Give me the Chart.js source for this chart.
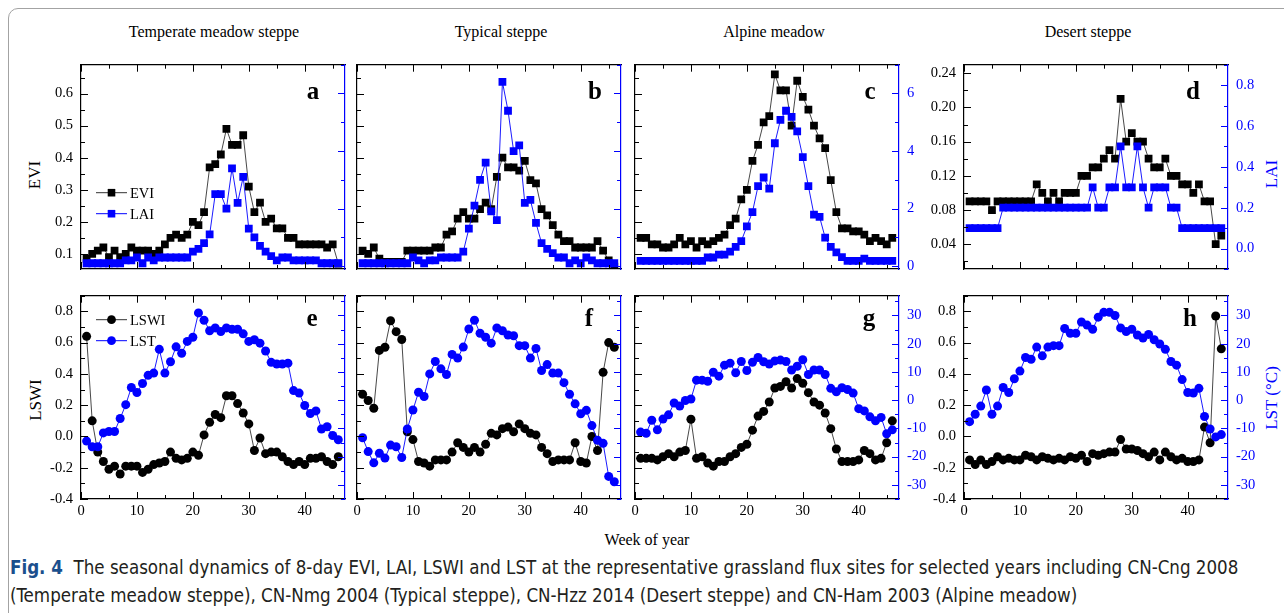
<!DOCTYPE html>
<html>
<head>
<meta charset="utf-8">
<script src="https://cdn.jsdelivr.net/npm/chart.js@4.4.1/dist/chart.umd.min.js"></script>
<style>
  html, body { margin: 0; padding: 0; background: #fff; }
  body { width: 1284px; height: 613px; position: relative; overflow: hidden;
         font-family: 'Liberation Serif', 'Times New Roman', serif; }
  #frame { position: absolute; left: 8px; top: 8px; width: 1320px; height: 660px;
           border: 1px solid #a3a3a3; border-radius: 10px; }
  canvas { position: absolute; }
  .t { position: absolute; white-space: nowrap; color: #000; line-height: 18px; }
  .title { font-size: 16px; top: 23px; transform: translateX(-50%); }
  .ylab { font-size: 17px; transform: translate(-50%, -50%) rotate(-90deg); }
  .blue { color: #0000ff; }
  .cap { font-family: 'Liberation Sans Narrow', 'DejaVu Sans Condensed', 'Roboto Condensed', sans-serif;
         font-size: 19.5px; color: #231f20; left: 10px; line-height: 22px; transform-origin: 0 0; }
  .cap b { color: #1b4f8d; }
</style>
</head>
<body>
<div id="frame"></div>

<div class="t title" style="left:214px">Temperate meadow steppe</div>
<div class="t title" style="left:501px">Typical steppe</div>
<div class="t title" style="left:774px">Alpine meadow</div>
<div class="t title" style="left:1088px">Desert steppe</div>

<div class="t ylab" style="left:35px;top:175px">EVI</div>
<div class="t ylab" style="left:36px;top:400px">LSWI</div>
<div class="t ylab blue" style="left:1272px;top:174px">LAI</div>
<div class="t ylab blue" style="left:1272px;top:398px">LST (°C)</div>

<div class="t" style="left:647px;top:531px;font-size:16px;transform:translateX(-50%)">Week of year</div>

<div class="t cap" id="cap1" style="top:557px"><b>Fig. 4</b>&nbsp; The seasonal dynamics of 8-day EVI, LAI, LSWI and LST at the representative grassland flux sites for selected years including CN-Cng 2008</div>
<div class="t cap" id="cap2" style="top:585px">(Temperate meadow steppe), CN-Nmg 2004 (Typical steppe), CN-Hzz 2014 (Desert steppe) and CN-Ham 2003 (Alpine meadow)</div>

<script>
// week of year (8-day composites)
const weeks = [1,2,3,4,5,6,7,8,9,10,11,12,13,14,15,16,17,18,19,20,21,22,23,24,25,26,27,28,29,30,31,32,33,34,35,36,37,38,39,40,41,42,43,44,45,46];

// tick labels
const xTickLabels = [0, 10, 20, 30, 40];
const eviTickLabels = [0.1, 0.2, 0.3, 0.4, 0.5, 0.6];
const laiTickLabels = [0, 2, 4, 6];
const eviDesertTickLabels = [0.04, 0.08, 0.12, 0.16, 0.20, 0.24];
const laiDesertTickLabels = [0.0, 0.2, 0.4, 0.6, 0.8];
const lswiTickLabels = [-0.4, -0.2, 0.0, 0.2, 0.4, 0.6, 0.8];
const lstTickLabels = [-30, -20, -10, 0, 10, 20, 30];

// a - Temperate meadow steppe (CN-Cng 2008)
const eviTemperate = [0.085,0.10,0.11,0.12,0.09,0.11,0.09,0.10,0.12,0.11,0.11,0.11,0.10,0.11,0.13,0.15,0.16,0.15,0.16,0.20,0.19,0.23,0.37,0.38,0.41,0.49,0.44,0.44,0.47,0.31,0.23,0.26,0.20,0.21,0.18,0.18,0.15,0.15,0.13,0.13,0.13,0.13,0.13,0.12,0.13,0.07];
const laiTemperate = [0.1,0.1,0.1,0.1,0.1,0.1,0.1,0.2,0.2,0.3,0.1,0.3,0.2,0.3,0.3,0.3,0.3,0.3,0.3,0.5,0.6,0.8,1.1,2.5,2.5,2.0,3.4,2.2,3.1,1.3,1.0,0.7,0.5,0.35,0.2,0.3,0.3,0.2,0.2,0.2,0.2,0.2,0.1,0.1,0.1,0.1];
// b - Typical steppe (CN-Nmg 2004)
const eviTypical = [0.11,0.10,0.12,0.085,0.075,0.075,0.075,0.075,0.11,0.11,0.11,0.11,0.11,0.12,0.12,0.16,0.17,0.21,0.23,0.21,0.21,0.24,0.26,0.24,0.34,0.40,0.37,0.37,0.36,0.39,0.33,0.32,0.24,0.22,0.19,0.16,0.14,0.14,0.12,0.12,0.12,0.12,0.14,0.11,0.08,0.06];
const laiTypical = [0.1,0.1,0.1,0.1,0.1,0.1,0.1,0.1,0.1,0.3,0.2,0.1,0.2,0.2,0.3,0.3,0.3,0.3,0.5,1.3,2.1,3.0,3.6,1.9,1.6,6.4,5.4,4.0,4.2,2.2,2.3,1.5,0.8,0.6,0.45,0.3,0.3,0.1,0.2,0.1,0.3,0.2,0.1,0.1,0.1,0.1];
// c - Alpine meadow (CN-Ham 2003)
const eviAlpine = [0.15,0.15,0.13,0.13,0.12,0.12,0.13,0.15,0.13,0.14,0.12,0.14,0.13,0.14,0.15,0.16,0.19,0.21,0.27,0.30,0.39,0.44,0.51,0.53,0.66,0.61,0.61,0.50,0.64,0.59,0.55,0.50,0.46,0.43,0.33,0.23,0.18,0.18,0.17,0.17,0.16,0.14,0.15,0.14,0.13,0.15];
const laiAlpine = [0.18,0.18,0.18,0.18,0.18,0.18,0.18,0.18,0.18,0.18,0.18,0.18,0.3,0.3,0.4,0.4,0.5,0.67,0.87,1.38,1.88,2.78,3.08,2.69,4.27,5.08,5.4,5.19,4.68,3.79,2.78,1.79,1.71,0.99,0.67,0.48,0.31,0.18,0.18,0.18,0.26,0.18,0.18,0.18,0.18,0.18];
// d - Desert steppe (CN-Hzz 2014)
const eviDesert = [0.09,0.09,0.09,0.09,0.08,0.09,0.09,0.09,0.09,0.09,0.09,0.09,0.11,0.10,0.09,0.10,0.09,0.10,0.10,0.10,0.12,0.12,0.13,0.13,0.14,0.15,0.14,0.21,0.16,0.17,0.16,0.16,0.14,0.13,0.13,0.14,0.12,0.12,0.11,0.11,0.10,0.11,0.09,0.09,0.04,0.05];
const laiDesert = [0.1,0.1,0.1,0.1,0.1,0.1,0.2,0.2,0.2,0.2,0.2,0.2,0.2,0.2,0.2,0.2,0.2,0.2,0.2,0.2,0.2,0.2,0.3,0.2,0.2,0.3,0.3,0.5,0.3,0.3,0.5,0.3,0.2,0.3,0.3,0.3,0.2,0.2,0.1,0.1,0.1,0.1,0.1,0.1,0.1,0.1];

// e-h LSWI and LST
const lswiTemperate = [0.64,0.10,-0.10,-0.16,-0.21,-0.19,-0.24,-0.19,-0.19,-0.19,-0.23,-0.21,-0.18,-0.17,-0.16,-0.10,-0.14,-0.15,-0.14,-0.10,-0.12,0.01,0.09,0.14,0.12,0.26,0.26,0.21,0.15,0.08,-0.09,-0.01,-0.11,-0.10,-0.10,-0.13,-0.16,-0.18,-0.16,-0.18,-0.14,-0.14,-0.13,-0.16,-0.18,-0.13];
const lstTemperate = [-14.5,-16.5,-16.5,-11.6,-11.1,-11.1,-6.5,-1.6,4.5,2.7,5.9,8.8,9.6,18.0,9.6,13.6,18.9,16.6,20.8,22.3,30.9,28.3,24.6,25.6,24.3,25.6,25.1,25.1,23.5,20.8,21.4,20.2,17.4,13.4,12.8,12.8,13.1,3.4,2.5,-1.9,-4.7,-3.8,-10.2,-9.4,-12.5,-14.0];
const lswiTypical = [0.27,0.23,0.18,0.55,0.57,0.74,0.67,0.62,0.03,-0.02,-0.16,-0.17,-0.19,-0.15,-0.15,-0.15,-0.10,-0.04,-0.07,-0.10,-0.07,-0.10,-0.05,0.02,0.01,0.05,0.06,0.03,0.08,0.05,0.02,0.01,-0.07,-0.11,-0.16,-0.15,-0.15,-0.15,-0.04,-0.16,-0.17,0.00,-0.09,0.41,0.60,0.57];
const lstTypical = [-13.3,-18.2,-22.2,-18.8,-20.5,-15.9,-16.5,-20.3,-10.2,-3.5,2.8,1.3,9.3,13.7,11.1,9.1,16.2,14.9,18.8,25.2,28.3,23.7,22.3,20.2,25.6,24.6,23.1,22.8,19.3,19.3,14.9,18.3,10.5,12.6,9.6,9.6,6.2,2.1,-1.3,-4.8,-3.6,-9.0,-14.2,-15.3,-27.0,-28.9];
const lswiAlpine = [-0.14,-0.14,-0.14,-0.15,-0.13,-0.11,-0.13,-0.10,-0.09,0.11,-0.14,-0.13,-0.17,-0.19,-0.16,-0.16,-0.13,-0.11,-0.07,-0.05,0.04,0.13,0.16,0.22,0.31,0.32,0.35,0.31,0.37,0.34,0.28,0.22,0.20,0.15,0.05,-0.08,-0.16,-0.16,-0.16,-0.15,-0.09,-0.11,-0.15,-0.14,-0.04,0.10];
const lstAlpine = [-11.3,-11.7,-7.1,-10.5,-6.7,-5.2,-1.0,-2.1,-0.1,0.4,7.1,7.1,6.7,9.9,8.5,12.4,13.1,9.7,13.7,10.5,13.4,15.1,13.6,12.8,13.9,14.2,13.7,10.7,12.0,14.3,9.1,10.7,10.7,9.1,4.2,3.0,4.4,3.8,2.5,-3.0,-3.8,-5.9,-7.3,-6.1,-11.9,-10.5];
const lswiDesert = [-0.15,-0.18,-0.15,-0.18,-0.16,-0.13,-0.15,-0.14,-0.15,-0.15,-0.12,-0.13,-0.15,-0.13,-0.14,-0.15,-0.14,-0.15,-0.13,-0.14,-0.12,-0.16,-0.11,-0.12,-0.11,-0.10,-0.10,-0.02,-0.08,-0.08,-0.09,-0.11,-0.13,-0.10,-0.15,-0.10,-0.13,-0.15,-0.14,-0.16,-0.16,-0.15,0.06,-0.04,0.77,0.56];
const lstDesert = [-7.6,-5.0,-2.1,3.6,-5.0,-2.1,4.5,2.7,7.6,10.3,15.1,14.5,18.8,15.7,18.8,19.3,19.3,25.4,23.7,23.7,27.7,26.6,25.1,29.4,31.1,31.1,30.0,25.6,24.3,25.1,23.1,22.0,23.3,21.4,19.9,18.0,13.7,12.4,7.3,2.7,2.5,4.2,-5.8,-10.2,-13.0,-12.2];

const BLUE = '#0000ff';
const SERIF = "'Liberation Serif', 'Times New Roman', serif";
Chart.defaults.font.family = SERIF;
Chart.defaults.font.size = 14.5;
Chart.defaults.color = '#000';

// panel frames in page pixels
const COLS = [81, 357, 635, 964];
const ROWS = [{ top: 58, h: 211 }, { top: 289, h: 210 }];
const W = 264, ML = 45, MR = 45, MT = 10, MB = 30;

function fmt(v, d) {
  const r = Math.round(v * 1e6) / 1e6;
  return (Math.abs(r) < 1e-9 ? 0 : r).toFixed(d);
}

function axis(pos, min, max, step, labels, digits, color, show) {
  const vertical = pos === 'left' || pos === 'right';
  return {
    type: 'linear', position: pos, min, max,
    border: { display: true, color, width: 1.2 },
    grid: { display: false, drawTicks: false },
    ticks: {
      stepSize: step, includeBounds: false, autoSkip: false, maxRotation: 0, minRotation: 0,
      color, padding: vertical ? 8 : 3,
      font: { family: 'Liberation Serif', size: 14.5 },
      callback: (v) => (show && labels.some((l) => Math.abs(l - v) < step / 100)) ? fmt(v, digits) : ''
    },
    afterFit: (s) => {
      if (vertical) s.width = pos === 'left' ? ML : MR;
      else s.height = pos === 'top' ? MT : MB;
    }
  };
}

// inward frame ticks, legend and panel letter
function decor(p) {
  return {
    id: 'decor' + p.letter,
    afterDraw(chart) {
      const { ctx, chartArea: a } = chart;
      ctx.save();
      for (const s of Object.values(chart.scales)) {
        const major = p.majors[s.id];
        ctx.strokeStyle = s.options.border.color;
        ctx.lineWidth = 1;
        for (const t of s.ticks) {
          const q = t.value / major;
          const len = Math.abs(q - Math.round(q)) < 1e-4 ? 7 : 4;
          const px = Math.round(s.getPixelForValue(t.value)) + 0.5;
          ctx.beginPath();
          if (s.position === 'left') { ctx.moveTo(a.left, px); ctx.lineTo(a.left + len, px); }
          else if (s.position === 'right') { ctx.moveTo(a.right, px); ctx.lineTo(a.right - len, px); }
          else if (s.position === 'bottom') { ctx.moveTo(px, a.bottom); ctx.lineTo(px, a.bottom - len); }
          else { ctx.moveTo(px, a.top); ctx.lineTo(px, a.top + len); }
          ctx.stroke();
        }
      }
      if (p.legend) {
        chart.data.datasets.forEach((d, i) => {
          const y = a.top + p.legendTop + i * 21;
          ctx.strokeStyle = d.borderColor;
          ctx.lineWidth = 1;
          ctx.beginPath(); ctx.moveTo(a.left + 15, y); ctx.lineTo(a.left + 46, y); ctx.stroke();
          ctx.fillStyle = d.pointBackgroundColor;
          ctx.beginPath();
          if (d.pointStyle === 'rect') ctx.rect(a.left + 30.5 - 3.8, y - 3.8, 7.6, 7.6);
          else ctx.arc(a.left + 30.5, y, 4.4, 0, Math.PI * 2);
          ctx.fill();
          ctx.fillStyle = '#000';
          ctx.font = '14.5px ' + SERIF;
          ctx.textAlign = 'left'; ctx.textBaseline = 'middle';
          ctx.fillText(d.label, a.left + 49, y + 1);
        });
      }
      ctx.fillStyle = '#000';
      ctx.font = 'bold 25px ' + SERIF;
      ctx.textAlign = 'center'; ctx.textBaseline = 'alphabetic';
      ctx.fillText(p.letter, p.letterX - (COLS[p.col] - ML), a.top + p.letterDy);
      ctx.restore();
    }
  };
}

function series(label, vals, axisId, color, line, style, radius, order) {
  return {
    label, yAxisID: axisId, order,
    data: weeks.map((w, i) => ({ x: w, y: vals[i] })),
    borderColor: line, borderWidth: 0.9, tension: 0,
    pointStyle: style, pointRadius: radius, pointHoverRadius: radius,
    pointBackgroundColor: color, pointBorderColor: color, pointBorderWidth: 0
  };
}

function panel(p) {
  const row = ROWS[p.row];
  const cv = document.createElement('canvas');
  cv.width = ML + W + MR;
  cv.height = MT + row.h + MB;
  cv.style.left = (COLS[p.col] - ML) + 'px';
  cv.style.top = (row.top - MT) + 'px';
  document.body.appendChild(cv);

  let y, y1, datasets;
  if (p.row === 0) {
    const desert = p.col === 3;
    y = desert ? axis('left', 0.011, 0.25, 0.02, eviDesertTickLabels, 2, '#000', true)
               : axis('left', 0.053, 0.69, 0.05, eviTickLabels, 1, '#000', p.col === 0);
    y1 = desert ? axis('right', -0.1, 0.9, 0.1, laiDesertTickLabels, 1, BLUE, true)
                : axis('right', -0.1, 7.0, 1, laiTickLabels, 0, BLUE, p.col === 2);
    p.majors = { x: 10, x2: 10, y: desert ? 0.04 : 0.1, y1: desert ? 0.2 : 2 };
    datasets = [
      series('EVI', p.a, 'y', '#000', '#333', 'rect', 5.5, 1),
      series('LAI', p.b, 'y1', BLUE, BLUE, 'rect', 5.5, 0)
    ];
  } else {
    y = axis('left', -0.4, 0.9, 0.1, lswiTickLabels, 1, '#000', p.col === 0 || p.col === 3);
    y1 = axis('right', -35, 37, 5, lstTickLabels, 0, BLUE, p.col >= 2);
    p.majors = { x: 10, x2: 10, y: 0.2, y1: 10 };
    datasets = [
      series('LSWI', p.a, 'y', '#000', '#333', 'circle', 4.5, 1),
      series('LST', p.b, 'y1', BLUE, BLUE, 'circle', 4.5, 0)
    ];
  }

  new Chart(cv.getContext('2d'), {
    type: 'line',
    data: { datasets },
    options: {
      responsive: false,
      animation: false,
      events: [],
      layout: { padding: 0 },
      plugins: { legend: { display: false }, tooltip: { enabled: false } },
      scales: {
        x: axis('bottom', 0, 47.2, 5, xTickLabels, 0, '#000', p.row === 1),
        x2: axis('top', 0, 47.2, 5, [], 0, '#000', false),
        y, y1
      }
    },
    plugins: [decor(p)]
  });
}

const panels = [
  { row: 0, col: 0, letter: 'a', letterX: 313, letterDy: 34, a: eviTemperate, b: laiTemperate, legend: true, legendTop: 128 },
  { row: 0, col: 1, letter: 'b', letterX: 595, letterDy: 34, a: eviTypical, b: laiTypical },
  { row: 0, col: 2, letter: 'c', letterX: 870, letterDy: 34, a: eviAlpine, b: laiAlpine },
  { row: 0, col: 3, letter: 'd', letterX: 1193, letterDy: 34, a: eviDesert, b: laiDesert },
  { row: 1, col: 0, letter: 'e', letterX: 312, letterDy: 30, a: lswiTemperate, b: lstTemperate, legend: true, legendTop: 24 },
  { row: 1, col: 1, letter: 'f', letterX: 589, letterDy: 30, a: lswiTypical, b: lstTypical },
  { row: 1, col: 2, letter: 'g', letterX: 869, letterDy: 30, a: lswiAlpine, b: lstAlpine },
  { row: 1, col: 3, letter: 'h', letterX: 1190, letterDy: 30, a: lswiDesert, b: lstDesert }
];
panels.forEach(panel);

// stretch caption to the printed line width
function fitCaption() {
  const c1 = document.getElementById('cap1');
  const c2 = document.getElementById('cap2');
  const s = 1228 / c1.offsetWidth;
  c1.style.transform = c2.style.transform = 'scaleX(' + s + ')';
}
fitCaption();
if (document.fonts) document.fonts.ready.then(fitCaption);
</script>
</body>
</html>
